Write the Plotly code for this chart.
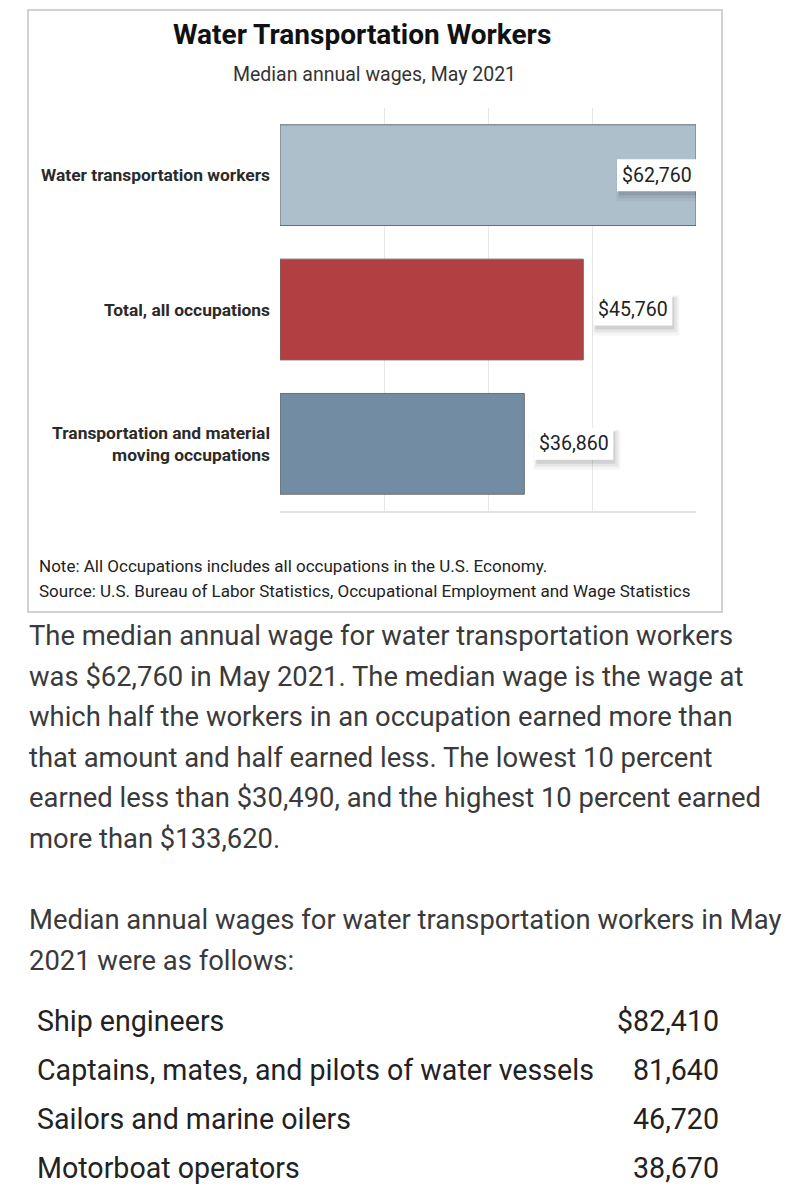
import plotly.graph_objects as go

# ---- data ----
categories = ["Water transportation workers", "Total, all occupations",
              "Transportation and material<br>moving occupations"]
wages = [62760, 45760, 36860]
bar_colors = ["#AEBFCC", "#B24043", "#728CA3"]

table_labels = ["Ship engineers", "Captains, mates, and pilots of water vessels",
                "Sailors and marine oilers", "Motorboat operators"]
table_values = ["$82,410", "81,640", "46,720", "38,670"]

para1 = [
    "The median annual wage for water transportation workers",
    "was $62,760 in May 2021. The median wage is the wage at",
    "which half the workers in an occupation earned more than",
    "that amount and half earned less. The lowest 10 percent",
    "earned less than $30,490, and the highest 10 percent earned",
    "more than $133,620.",
]
para2 = [
    "Median annual wages for water transportation workers in May",
    "2021 were as follows:",
]
notes = [
    "Note: All Occupations includes all occupations in the U.S. Economy.",
    "Source: U.S. Bureau of Labor Statistics, Occupational Employment and Wage Statistics",
]

W, H = 809, 1200
OFF = 8  # page body margin
def px(x): return (x - OFF) / W
def py(y): return 1 - (y - OFF) / H

FONT = "Roboto"

fig = go.Figure()
fig.add_trace(go.Bar(
    x=wages, y=categories, orientation="h", width=0.75,
    marker=dict(color=bar_colors, line=dict(color="#6b6b6b", width=1)),
    hoverinfo="skip", showlegend=False,
))

ann = []
shapes = []
BW, BH = 79, 32
for i, (c, v) in enumerate(zip(categories, wages)):
    txt = "${:,}".format(v)
    if i == 0:
        x0 = -BW
    else:
        x0 = 10
    # soft shadow (pixel-sized shapes anchored to the data point)
    for grow, dx, dy, op in [(4, 3, -6, 0.04), (2, 3, -5, 0.06), (0, 2, -4, 0.09)]:
        shapes.append(dict(type="rect", xref="x", yref="y",
                           xsizemode="pixel", ysizemode="pixel",
                           xanchor=v, yanchor=c,
                           x0=x0 + dx - grow, x1=x0 + BW + dx + grow,
                           y0=-BH / 2 + dy - grow, y1=BH / 2 + dy + grow,
                           line=dict(width=0), fillcolor="black", opacity=op,
                           layer="above"))
    shapes.append(dict(type="rect", xref="x", yref="y",
                       xsizemode="pixel", ysizemode="pixel",
                       xanchor=v, yanchor=c,
                       x0=x0, x1=x0 + BW, y0=-BH / 2, y1=BH / 2,
                       line=dict(width=0), fillcolor="white", layer="above"))
    ann.append(dict(x=v, y=c, xref="x", yref="y", text=txt, showarrow=False,
                    xanchor="center", xshift=x0 + BW / 2,
                    font=dict(family=FONT, size=19.5, color="#222222")))

# title and subtitle
ann.append(dict(x=px(362), y=py(35), xref="paper", yref="paper",
                text="<b>Water Transportation Workers</b>", showarrow=False,
                xanchor="center", yanchor="middle",
                font=dict(family=FONT, size=28, color="#111111")))
ann.append(dict(x=px(374), y=py(75), xref="paper", yref="paper",
                text="Median annual wages, May 2021", showarrow=False,
                xanchor="center", yanchor="middle",
                font=dict(family=FONT, size=19.5, color="#333333")))

# notes
for i, t in enumerate(notes):
    ann.append(dict(x=px(37), y=py(566 + 25 * i), xref="paper", yref="paper",
                    text=t, showarrow=False, xanchor="left", yanchor="middle",
                    font=dict(family=FONT, size=17, color="#222222")))

# paragraphs
for i, t in enumerate(para1):
    ann.append(dict(x=px(27), y=py(636 + 40.6 * i), xref="paper", yref="paper",
                    text=t, showarrow=False, xanchor="left", yanchor="middle",
                    font=dict(family=FONT, size=27.4, color="#3a3a3a")))
for i, t in enumerate(para2):
    ann.append(dict(x=px(27), y=py(920 + 40.6 * i), xref="paper", yref="paper",
                    text=t, showarrow=False, xanchor="left", yanchor="middle",
                    font=dict(family=FONT, size=27.4, color="#3a3a3a")))

# table
for i, (l, v) in enumerate(zip(table_labels, table_values)):
    yy = py(1021 + 49 * i)
    ann.append(dict(x=px(35), y=yy, xref="paper", yref="paper", text=l,
                    showarrow=False, xanchor="left", yanchor="middle",
                    font=dict(family=FONT, size=28.6, color="#222222")))
    ann.append(dict(x=px(721), y=yy, xref="paper", yref="paper", text=v,
                    showarrow=False, xanchor="right", yanchor="middle",
                    font=dict(family=FONT, size=28.6, color="#222222")))

shapes.append(dict(type="rect", xref="paper", yref="paper",
                   x0=px(28), x1=px(722), y0=py(612), y1=py(10),
                   line=dict(color="#d2d2d2", width=2), fillcolor="rgba(0,0,0,0)",
                   layer="below"))

fig.update_layout(
    width=W, height=H,
    margin=dict(l=0, r=0, t=0, b=0),
    paper_bgcolor="white", plot_bgcolor="white",
    font=dict(family=FONT),
    annotations=ann, shapes=shapes,
    bargap=0.25,
    xaxis=dict(domain=[px(280), px(696)], range=[0, 62760],
               tick0=0, dtick=15690, showticklabels=False,
               showgrid=True, gridcolor="#e8e8e8", gridwidth=1,
               zeroline=False, showline=True, linecolor="#e2e2e2", linewidth=2,
               fixedrange=True),
    yaxis=dict(domain=[py(511), py(108)], categoryorder="array",
               categoryarray=categories, autorange="reversed",
               showgrid=False, zeroline=False, showline=False,
               ticks="", ticklabelstandoff=9,
               tickfont=dict(family=FONT, size=17.4, color="#2a2a2a", weight="bold"),
               fixedrange=True),
)

fig.write_html("out.html")
